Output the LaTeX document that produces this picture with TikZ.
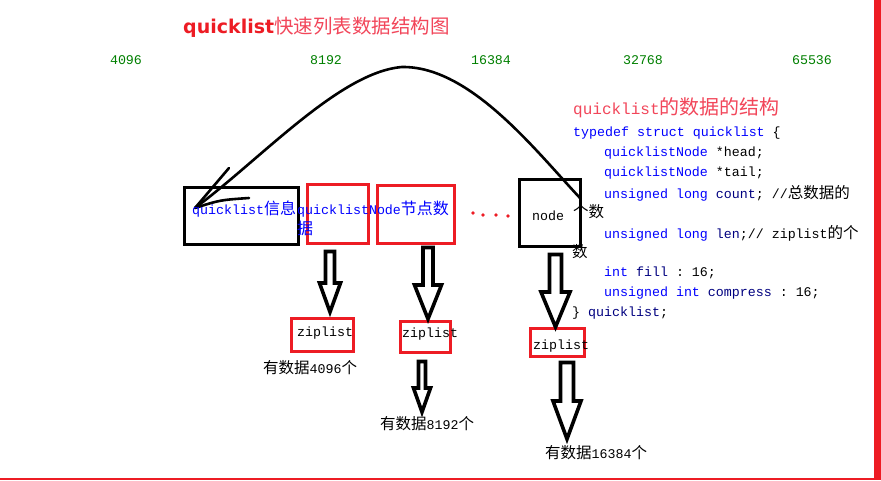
\documentclass[tikz,border=0pt]{standalone}
\usepackage{fontspec}
\setmonofont{Liberation Mono}
\newfontfamily\cjk{Noto Sans CJK SC}
\newfontfamily\titlesans{DejaVu Sans}
\definecolor{qred}{RGB}{237,28,36}
\definecolor{qpink}{RGB}{242,70,90}
\definecolor{qgreen}{RGB}{0,128,0}
\definecolor{qblue}{RGB}{0,0,255}
\definecolor{qnavy}{RGB}{0,0,128}
\newcommand\zhs[2][15.5]{{\fontsize{#1}{#1}\selectfont\cjk #2}}
\newcommand\qarrow[6]{\draw[barrow] (#1-#5,#2) -- (#1+#5,#2) -- (#1+#5,#3) -- (#1+#6,#3) -- (#1,#4) -- (#1-#6,#3) -- (#1-#5,#3) -- cycle;}
\begin{document}
\begin{tikzpicture}[x=1pt,y=-1pt,
  blackbox/.style={draw=black, line width=3pt, inner sep=0pt},
  redbox/.style={draw=qred, line width=3pt, inner sep=0pt},
  code/.style={anchor=west, inner sep=0pt, font=\fontsize{13.3}{16}\selectfont\ttfamily},
  num/.style={inner sep=0pt, text=qgreen, font=\fontsize{13.3}{16}\selectfont\ttfamily},
  barrow/.style={draw=black, line width=3.6pt, fill=white, line join=miter},
  curve/.style={draw=black, line width=2.6pt, line cap=round},
  dotred/.style={fill=qred, draw=none}
]
\fill[white] (0,0) rectangle (881,480);
\useasboundingbox (0,0) rectangle (881,480);
\fill[qred] (874,0) rectangle (881,480);
\fill[qred] (0,478) rectangle (881,480);

% title
\node[anchor=west, inner sep=0pt] (title) at (183,27)
  {{\titlesans\bfseries\fontsize{19}{20}\selectfont\color{qred}quicklist}\zhs[19.5]{\color{qpink}快速列表数据结构图}};

% green numbers
\node[num] (n1) at (126,60) {4096};
\node[num] (n2) at (326,60) {8192};
\node[num] (n3) at (491,60) {16384};
\node[num] (n4) at (643,60) {32768};
\node[num] (n5) at (812,60) {65536};

% boxes
\node[blackbox, minimum width=114pt, minimum height=57pt] (info) at (241.5,216) {};
\node[redbox, minimum width=61pt, minimum height=59pt] (qnode) at (338,214) {};
\node[redbox, minimum width=77pt, minimum height=58pt] (count) at (416,214.5) {};
\node[blackbox, minimum width=61pt, minimum height=67pt] (node) at (550,213) {};
\node[redbox, minimum width=62pt, minimum height=33pt] (zip1) at (322.5,335) {};
\node[redbox, minimum width=50pt, minimum height=31pt] (zip2) at (425.5,337) {};
\node[redbox, minimum width=54pt, minimum height=28pt] (zip3) at (557.5,342.5) {};

% dots
\fill[dotred] (473,213) circle (1.8);
\fill[dotred] (483,215) circle (1.8);
\fill[dotred] (496,215) circle (1.8);
\fill[dotred] (508,216) circle (1.8);

% block arrows
\qarrow{330}{251.5}{283}{312}{4.5}{10.5}
\qarrow{428}{247.5}{285}{319}{5}{13.5}
\qarrow{422}{361.5}{388}{412}{3.5}{8.5}
\qarrow{555.5}{254.5}{292}{327}{6}{14.5}
\qarrow{567}{362.5}{401}{439}{6.5}{14}

% big curve
\coordinate (cstart) at (580,198);
\coordinate (cpeak) at (402,67);
\coordinate (ctip) at (195,208);
\coordinate (barbA) at (229,168);
\coordinate (barbB) at (249,198);
\draw[curve] (cstart) .. controls (535,150) and (470,66) .. (cpeak)
  .. controls (340,72) and (262,158) .. (ctip);
\draw[curve] (ctip) -- (barbA);
\draw[curve] (ctip) .. controls (220,200) .. (barbB);

% box texts
\node[code, text=qblue] (tinfo) at (192,209) {quicklist\zhs[16]{信息}};
\node[code, text=qblue] (tqn) at (297,209) {quicklistNode\zhs[16]{节点数}};
\node[code, text=qblue] (tqn2) at (297,228) {\zhs[16]{据}};
\node[code] (tnode) at (532,216) {node};
\node[code] (tz1) at (297,333) {ziplist};
\node[code] (tz2) at (402,334) {ziplist};
\node[code] (tz3) at (533,346) {ziplist};
\node[code] (c1) at (263,368) {\zhs{有数据}4096\zhs{个}};
\node[code] (c2) at (380,424) {\zhs{有数据}8192\zhs{个}};
\node[code] (c3) at (545,453) {\zhs{有数据}16384\zhs{个}};

% struct code
\node[anchor=west, inner sep=0pt] (stitle) at (573,108)
  {{\fontsize{16}{18}\selectfont\ttfamily\color{qpink}quicklist}\zhs[20]{\color{qpink}的数据的结构}};
\node[code] (l1) at (573,133) {\textcolor{qblue}{typedef struct quicklist} \{};
\node[code] (l2) at (604,153) {\textcolor{qblue}{quicklistNode} *head;};
\node[code] (l3) at (604,173) {\textcolor{qblue}{quicklistNode} *tail;};
\node[code] (l4) at (604,193) {\textcolor{qblue}{unsigned long} \textcolor{qnavy}{count}; //\zhs{总数据的}};
\node[code] (l5) at (573,212) {\zhs{个数}};
\node[code] (l6) at (604,233) {\textcolor{qblue}{unsigned long} \textcolor{qnavy}{len};// ziplist\zhs{的个}};
\node[code] (l7) at (572,252) {\zhs{数}};
\node[code] (l8) at (604,273) {\textcolor{qblue}{int} \textcolor{qnavy}{fill} : 16;};
\node[code] (l9) at (604,293) {\textcolor{qblue}{unsigned int} \textcolor{qnavy}{compress} : 16;};
\node[code] (l10) at (572,313) {\} \textcolor{qnavy}{quicklist};};
\end{tikzpicture}
\end{document}
